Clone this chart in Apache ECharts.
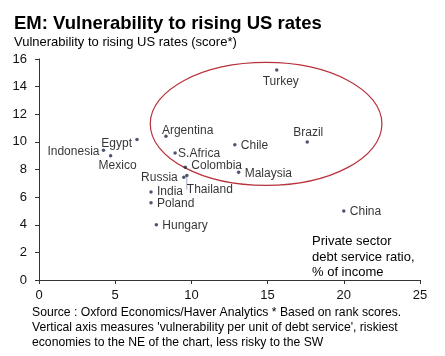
<!DOCTYPE html>
<html><head><meta charset="utf-8">
<script src="https://cdn.jsdelivr.net/npm/echarts@6/dist/echarts.min.js"></script>
<style>html,body{margin:0;padding:0;background:#fff}#c{width:445px;height:356px}</style>
</head><body><div id="c"></div>
<script>
const countries = ['Turkey','Brazil','Chile','Argentina','S.Africa','Colombia','Malaysia','Russia','Thailand','India','Poland','Hungary','China','Egypt','Indonesia','Mexico'];
const debtService = [15.6,17.6,12.85,8.33,8.93,9.6,13.1,9.5,9.7,7.35,7.35,7.7,20.0,6.43,4.23,4.7];
const vulnerability = [15.2,10.0,9.8,10.4,9.2,8.17,7.8,7.44,7.56,6.38,5.6,4.0,5.0,10.17,9.4,9.0];
const xTicks = [0,5,10,15,20,25];
const yTicks = [0,2,4,6,8,10,12,14,16];
// highlight ellipse in data units: centre x, centre y, radius x, radius y
const ellipse = [14.9, 11.3, 7.6, 4.45];

// label placement (layout only): dx, dy, align, leader line
const labelPos = {
  Turkey:[4,12,'center'], Brazil:[1,-9,'center'], Chile:[6,1,'left'], Argentina:[-4,-6,'left'],
  'S.Africa':[3,1,'left'], Colombia:[6,-1,'left'], Malaysia:[6,1,'left'], Russia:[-6,0,'right'],
  Thailand:[0,14,'left',true], India:[6,0,'left'], Poland:[6,1,'left'], Hungary:[6,1,'left'],
  China:[6,1,'left'], Egypt:[-5,4,'right'], Indonesia:[-4,2,'right'], Mexico:[7,10,'center']
};

const FONT = 'Liberation Sans, Arial, sans-serif';
const chart = echarts.init(document.getElementById('c'), null, {renderer:'canvas'});
const data = countries.map((n,i)=>{
  const p = labelPos[n];
  const d = {
    name:n, value:[debtService[i], vulnerability[i]],
    label:{show:true, formatter:n, position:'inside', align:p[2], verticalAlign:'middle', offset:[p[0],p[1]]}
  };
  if (p[3]) d.labelLine = {show:true, length2:0, lineStyle:{color:'#8a95b0', width:0.8}};
  return d;
});
chart.setOption({
  animation:false,
  textStyle:{fontFamily:FONT},
  title:{
    text:'EM: Vulnerability to rising US rates',
    subtext:'Vulnerability to rising US rates (score*)',
    left:9, top:9, itemGap:3,
    textStyle:{fontFamily:FONT, fontSize:18.5, fontWeight:'bold', color:'#000'},
    subtextStyle:{fontFamily:FONT, fontSize:13, color:'#000'}
  },
  grid:{left:39, right:25, top:59, bottom:76, containLabel:false},
  xAxis:{type:'value', min:xTicks[0], max:xTicks[xTicks.length-1], interval:5,
    splitLine:{show:false},
    axisLine:{show:true, lineStyle:{color:'#333', width:1}},
    axisTick:{show:true, length:4, lineStyle:{color:'#333'}},
    axisLabel:{fontFamily:FONT, fontSize:13, color:'#111', margin:9}},
  yAxis:{type:'value', min:yTicks[0], max:yTicks[yTicks.length-1], interval:2,
    splitLine:{show:false},
    axisLine:{show:true, lineStyle:{color:'#333', width:1}},
    axisTick:{show:true, length:4, lineStyle:{color:'#333'}},
    axisLabel:{fontFamily:FONT, fontSize:13, color:'#111', margin:12}},
  series:[
    {type:'scatter', symbol:'circle', symbolSize:3.5, itemStyle:{color:'#1f2a4a'},
     label:{fontFamily:FONT, fontSize:12, color:'#000'},
     data:data},
    {type:'custom', silent:true, z:1,
     renderItem:function(params, api){
       const c = api.coord([api.value(0), api.value(1)]);
       const e = api.coord([api.value(0)+api.value(2), api.value(1)+api.value(3)]);
       return {type:'ellipse', shape:{cx:c[0], cy:c[1], rx:Math.abs(e[0]-c[0]), ry:Math.abs(c[1]-e[1])},
               style:{fill:'none', stroke:'#b8323c', lineWidth:1.2}};
     },
     data:[ellipse]}
  ],
  graphic:[
    {type:'text', left:312, top:234, style:{text:'Private sector\ndebt service ratio,\n% of income', font:'13px '+FONT, fill:'#000', lineHeight:15.5}},
    {type:'text', left:32, top:305, style:{text:"Source : Oxford Economics/Haver Analytics * Based on rank scores.\nVertical axis measures 'vulnerability per unit of debt service', riskiest\neconomies to the NE of the chart, less risky to the SW", font:'12.2px '+FONT, fill:'#000', lineHeight:15}}
  ]
});
</script></body></html>
